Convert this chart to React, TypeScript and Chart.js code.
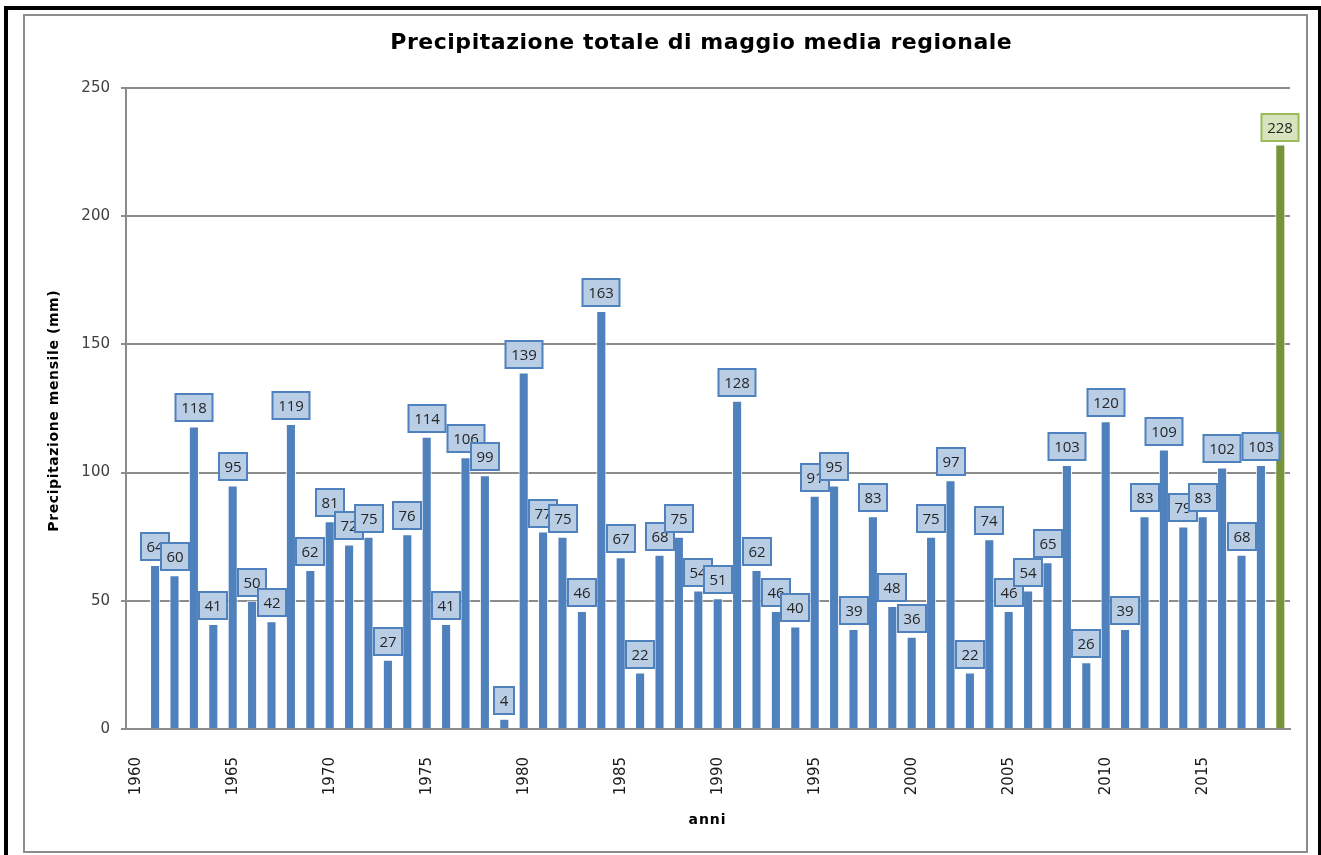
import { useEffect, useRef } from "react";
import { Chart, registerables } from "chart.js";

Chart.register(...registerables);

const chartTitle = "Precipitazione totale di maggio media regionale";
const yTitle = "Precipitazione mensile (mm)";
const xTitle = "anni";

const years = [
  "1960", "1961", "1962", "1963", "1964", "1965", "1966", "1967", "1968", "1969",
  "1970", "1971", "1972", "1973", "1974", "1975", "1976", "1977", "1978", "1979",
  "1980", "1981", "1982", "1983", "1984", "1985", "1986", "1987", "1988", "1989",
  "1990", "1991", "1992", "1993", "1994", "1995", "1996", "1997", "1998", "1999",
  "2000", "2001", "2002", "2003", "2004", "2005", "2006", "2007", "2008", "2009",
  "2010", "2011", "2012", "2013", "2014", "2015", "2016", "2017", "2018", "2019",
];

const precip: (number | null)[] = [
  null, 64, 60, 118, 41, 95, 50, 42, 119, 62,
  81, 72, 75, 27, 76, 114, 41, 106, 99, 4,
  139, 77, 75, 46, 163, 67, 22, 68, 75, 54,
  51, 128, 62, 46, 40, 91, 95, 39, 83, 48,
  36, 75, 97, 22, 74, 46, 54, 65, 103, 26,
  120, 39, 83, 109, 79, 83, 102, 68, 103, 228,
];

const shownYears = ["1960", "1965", "1970", "1975", "1980", "1985", "1990", "1995", "2000", "2005", "2010", "2015"];
const yTicks = [0, 50, 100, 150, 200, 250];

const BLUE = "#4F81BD";
const GREEN = "#77933C";

function fitText(ctx: CanvasRenderingContext2D, txt: string, target: number) {
  (ctx as any).letterSpacing = "0px";
  const w = ctx.measureText(txt).width;
  const sp = (target - w) / txt.length;
  (ctx as any).letterSpacing = `${sp}px`;
  return sp;
}

const framePlugin = {
  id: "frame",
  beforeDraw(chart: any) {
    const ctx = chart.ctx;
    ctx.save();
    ctx.fillStyle = "#ffffff";
    ctx.fillRect(0, 0, chart.width, chart.height);
    // outer black frame
    ctx.fillStyle = "#000000";
    ctx.fillRect(4, 6, 4, 849);
    ctx.fillRect(4, 6, 1317, 4);
    ctx.fillRect(1318, 6, 3, 849);
    // gray chart border
    ctx.strokeStyle = "#8c8c8c";
    ctx.lineWidth = 2;
    ctx.strokeRect(24, 15, 1283, 837);
    // title
    ctx.fillStyle = "#000000";
    ctx.font = 'bold 22px "DejaVu Sans"';
    ctx.textAlign = "center";
    ctx.textBaseline = "alphabetic";
    let sp = fitText(ctx, chartTitle, 622);
    ctx.fillText(chartTitle, 701 + sp / 2, 49);
    // x title
    ctx.font = 'bold 14px "DejaVu Sans"';
    ctx.textBaseline = "middle";
    sp = fitText(ctx, xTitle, 38);
    ctx.fillText(xTitle, 707 + sp / 2, 820);
    // y title
    sp = fitText(ctx, yTitle, 242);
    ctx.translate(54, 411);
    ctx.rotate(-Math.PI / 2);
    ctx.fillText(yTitle, sp / 2, 0);
    ctx.restore();
  },
};

const labelPlugin = {
  id: "boxLabels",
  afterDatasetsDraw(chart: any) {
    const ctx = chart.ctx;
    const meta = chart.getDatasetMeta(0);
    const last = precip.length - 1;
    ctx.save();
    ctx.font = '15px "Open Sans"';
    ctx.textAlign = "center";
    ctx.textBaseline = "middle";
    meta.data.forEach((bar: any, i: number) => {
      const v = precip[i];
      if (v == null) return;
      const txt = String(v);
      const w = Math.round(ctx.measureText(txt).width + 11);
      const h = 27;
      const cx = Math.round(bar.x);
      const bottom = Math.round(bar.y) - (i === last ? 3 : 5);
      const x0 = cx - w / 2;
      const y0 = bottom - h;
      ctx.fillStyle = i === last ? "#D7E4BD" : "#B9CDE5";
      ctx.fillRect(x0, y0, w, h);
      ctx.strokeStyle = i === last ? "#9BBB59" : "#4F81BD";
      ctx.lineWidth = 2;
      ctx.strokeRect(x0, y0, w, h);
      ctx.fillStyle = "#262626";
      ctx.fillText(txt, cx, y0 + h / 2 + 1);
    });
    ctx.restore();
  },
};

export default function App() {
  const canvasRef = useRef<HTMLCanvasElement | null>(null);

  useEffect(() => {
    document.body.style.margin = "0";
    const canvas = canvasRef.current;
    if (!canvas) return;
    const last = precip.length - 1;
    const chart = new Chart(canvas, {
      type: "bar",
      data: {
        labels: years,
        datasets: [
          {
            data: precip,
            backgroundColor: precip.map((_, i) => (i === last ? GREEN : BLUE)),
            borderColor: "#ffffff",
            borderWidth: 1,
            barPercentage: 0.52,
            categoryPercentage: 1,
          },
        ],
      },
      options: {
        animation: false,
        responsive: false,
        maintainAspectRatio: false,
        devicePixelRatio: 1,
        layout: { padding: { top: 88, right: 31, bottom: 0, left: 0 } },
        plugins: {
          legend: { display: false },
          title: { display: false },
          tooltip: { enabled: false },
        },
        scales: {
          x: {
            grid: { display: false },
            border: { display: true, color: "#8c8c8c", width: 2 },
            ticks: {
              autoSkip: false,
              minRotation: 90,
              maxRotation: 90,
              padding: 20,
              color: "#1a1a1a",
              font: { family: '"DejaVu Sans"', size: 15 },
              callback: (_v: any, i: number) => (shownYears.includes(years[i]) ? years[i] : ""),
            },
            afterFit: (scale: any) => {
              scale.height = 126;
            },
          },
          y: {
            min: 0,
            max: 250,
            afterBuildTicks: (scale: any) => {
              scale.ticks = yTicks.map((v) => ({ value: v }));
            },
            grid: { color: "#8c8c8c", lineWidth: 2, tickLength: 5, drawTicks: true },
            border: { display: true, color: "#8c8c8c", width: 2 },
            ticks: {
              padding: 11,
              color: "#404040",
              font: { family: '"DejaVu Sans"', size: 15 },
            },
            afterFit: (scale: any) => {
              scale.width = 126;
            },
          },
        },
      },
      plugins: [framePlugin, labelPlugin],
    });
    return () => chart.destroy();
  }, []);

  return (
    <div style={{ width: 1321, height: 855 }}>
      <canvas ref={canvasRef} width={1321} height={855} style={{ display: "block" }} />
    </div>
  );
}
